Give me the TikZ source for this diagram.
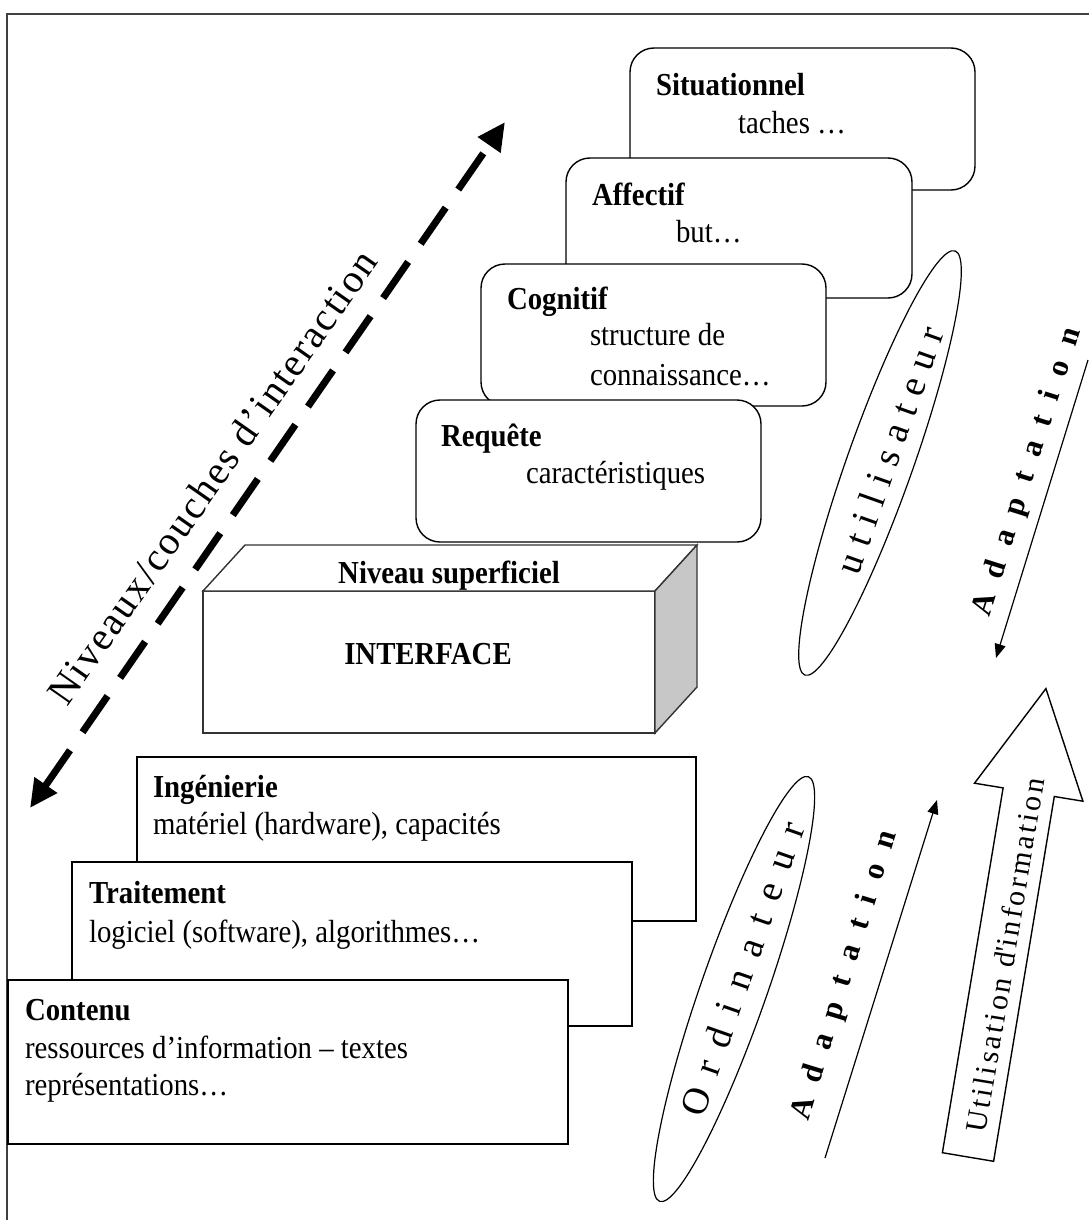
\documentclass[tikz,border=0pt]{standalone}
\usepackage{graphicx}
\usepackage{fontspec}
\setmainfont{Liberation Serif}[FakeStretch=0.9]
\newfontfamily\rotserif{Liberation Serif}
\usetikzlibrary{arrows.meta,shapes.geometric}
\begin{document}
\begin{tikzpicture}[x=1pt,y=-1pt,
  every node/.style={inner sep=0pt, outer sep=0pt},
  rbox/.style={draw=black, line width=1.4pt, fill=white, rounded corners=24pt, anchor=north west},
  sbox/.style={draw=black, line width=1.4pt, fill=white, anchor=north west},
  ttl/.style={anchor=base west, font=\fontsize{32}{38}\selectfont\bfseries},
  txt/.style={anchor=base west, font=\fontsize{32}{38}\selectfont},
  oval/.style={ellipse, draw=black, line width=1.2pt, minimum width=450pt, minimum height=66pt},
  adapt/.style={font=\rotserif\fontsize{31}{36}\selectfont\bfseries\addfontfeature{LetterSpace=54}},
  thinarrow/.style={line width=1.2pt, -{Triangle[length=14pt,width=11pt]}},
  dasharrow/.style={line width=7pt, dash pattern=on 44pt off 22pt,
     {Triangle[length=28pt,width=26pt]}-{Triangle[length=28pt,width=26pt]}}
]
\useasboundingbox (0,0) rectangle (1088,1220);
% frame
\draw[line width=2pt, draw=black!75] (7,1230) -- (7,14) -- (1100,14);

% upper rounded boxes
\node[rbox, minimum width=345pt, minimum height=142pt] (sit) at (630,48) {};
\node[ttl] (sitT) at (656,96) {Situationnel};
\node[txt] (sitS) at (738,134) {taches …};

\node[rbox, minimum width=346pt, minimum height=140pt] (aff) at (566,158) {};
\node[ttl] (affT) at (592,205) {Affectif};
\node[txt] (affS) at (676,242) {but…};

\node[rbox, minimum width=345pt, minimum height=142pt] (cog) at (481,264) {};
\node[ttl] (cogT) at (507,309) {Cognitif};
\node[txt] (cogS1) at (590,345) {structure de};
\node[txt] (cogS2) at (590,385) {connaissance…};

\node[rbox, minimum width=345pt, minimum height=142pt] (req) at (416,400) {};
\node[ttl] (reqT) at (441,446) {Requête};
\node[txt] (reqS) at (526,483) {caractéristiques};

% 3D interface box
\node[sbox, draw=black!80, minimum width=452pt, minimum height=142pt] (iface) at (203,591) {};
\draw[line width=1.4pt, draw=black!80, fill=white] (iface.north west) -- ++(42,-46) -- ++(452,0) -- (iface.north east) -- cycle;
\draw[line width=1.4pt, draw=black!80, fill=black!22] (iface.north east) -- ++(42,-46) -- ++(0,142) -- (iface.south east) -- cycle;
\node[anchor=base, font=\fontsize{32}{38}\selectfont\bfseries] (ifT) at (449,583) {Niveau superficiel};
\node[anchor=base, font=\fontsize{32}{38}\selectfont\bfseries] (ifS) at (428,664) {INTERFACE};

% lower boxes
\node[sbox, minimum width=559pt, minimum height=164pt] (ing) at (137,757) {};
\node[ttl] (ingT) at (153,797) {Ingénierie};
\node[txt] (ingS) at (153,834) {matériel (hardware), capacités};

\node[sbox, minimum width=560pt, minimum height=164pt] (tra) at (72,862) {};
\node[ttl] (traT) at (89,903) {Traitement};
\node[txt] (traS) at (89,942) {logiciel (software), algorithmes…};

\node[sbox, minimum width=560pt, minimum height=164pt] (con) at (8,980) {};
\node[ttl] (conT) at (25,1020) {Contenu};
\node[txt] (conS1) at (25,1058) {ressources d’information – textes};
\node[txt] (conS2) at (25,1095) {représentations…};

% dashed double arrow
\coordinate (dA) at (30,808);
\coordinate (dB) at (505,122);
\draw[dasharrow] (dA) -- (dB);
\node[font=\rotserif\fontsize{40}{46}\selectfont\addfontfeature{LetterSpace=5}] (levels) at (212,477) {\rotatebox{55}{Niveaux/couches d’interaction}};

% ellipses
\node[oval, rotate=70.5] (user) at (880,463) {};
\node[font=\rotserif\fontsize{38}{44}\selectfont\addfontfeature{LetterSpace=28}] (userT) at (889,450) {\rotatebox{70.5}{utilisateur}};
\node[oval, rotate=70.7] (comp) at (734,989) {};
\node[font=\rotserif\fontsize{38}{44}\selectfont\addfontfeature{LetterSpace=42}] (compT) at (742,969) {\rotatebox{70.7}{Ordinateur}};

% adaptation arrows
\coordinate (a1s) at (1088,360);
\coordinate (a1e) at (996,658);
\draw[thinarrow] (a1s) -- (a1e);
\node[adapt] (ad1) at (1028,472) {\rotatebox{72.5}{Adaptation}};

\coordinate (a2s) at (825,1158);
\coordinate (a2e) at (937,800);
\draw[thinarrow] (a2s) -- (a2e);
\node[adapt] (ad2) at (845,976) {\rotatebox{73}{Adaptation}};

% big hollow arrow
\draw[line width=1.4pt, fill=white] (942.4,1152.7) -- (1003.1,787.9) -- (974.5,783.2) -- (1045.9,688.6)
  -- (1082.9,801.2) -- (1054.3,796.5) -- (993.6,1161.3) -- cycle;
\node[font=\rotserif\fontsize{30}{36}\selectfont\addfontfeature{LetterSpace=10}] (useinfo) at (1005,955) {\rotatebox{80.6}{Utilisation d\textquotesingle information}};
\end{tikzpicture}
\end{document}
